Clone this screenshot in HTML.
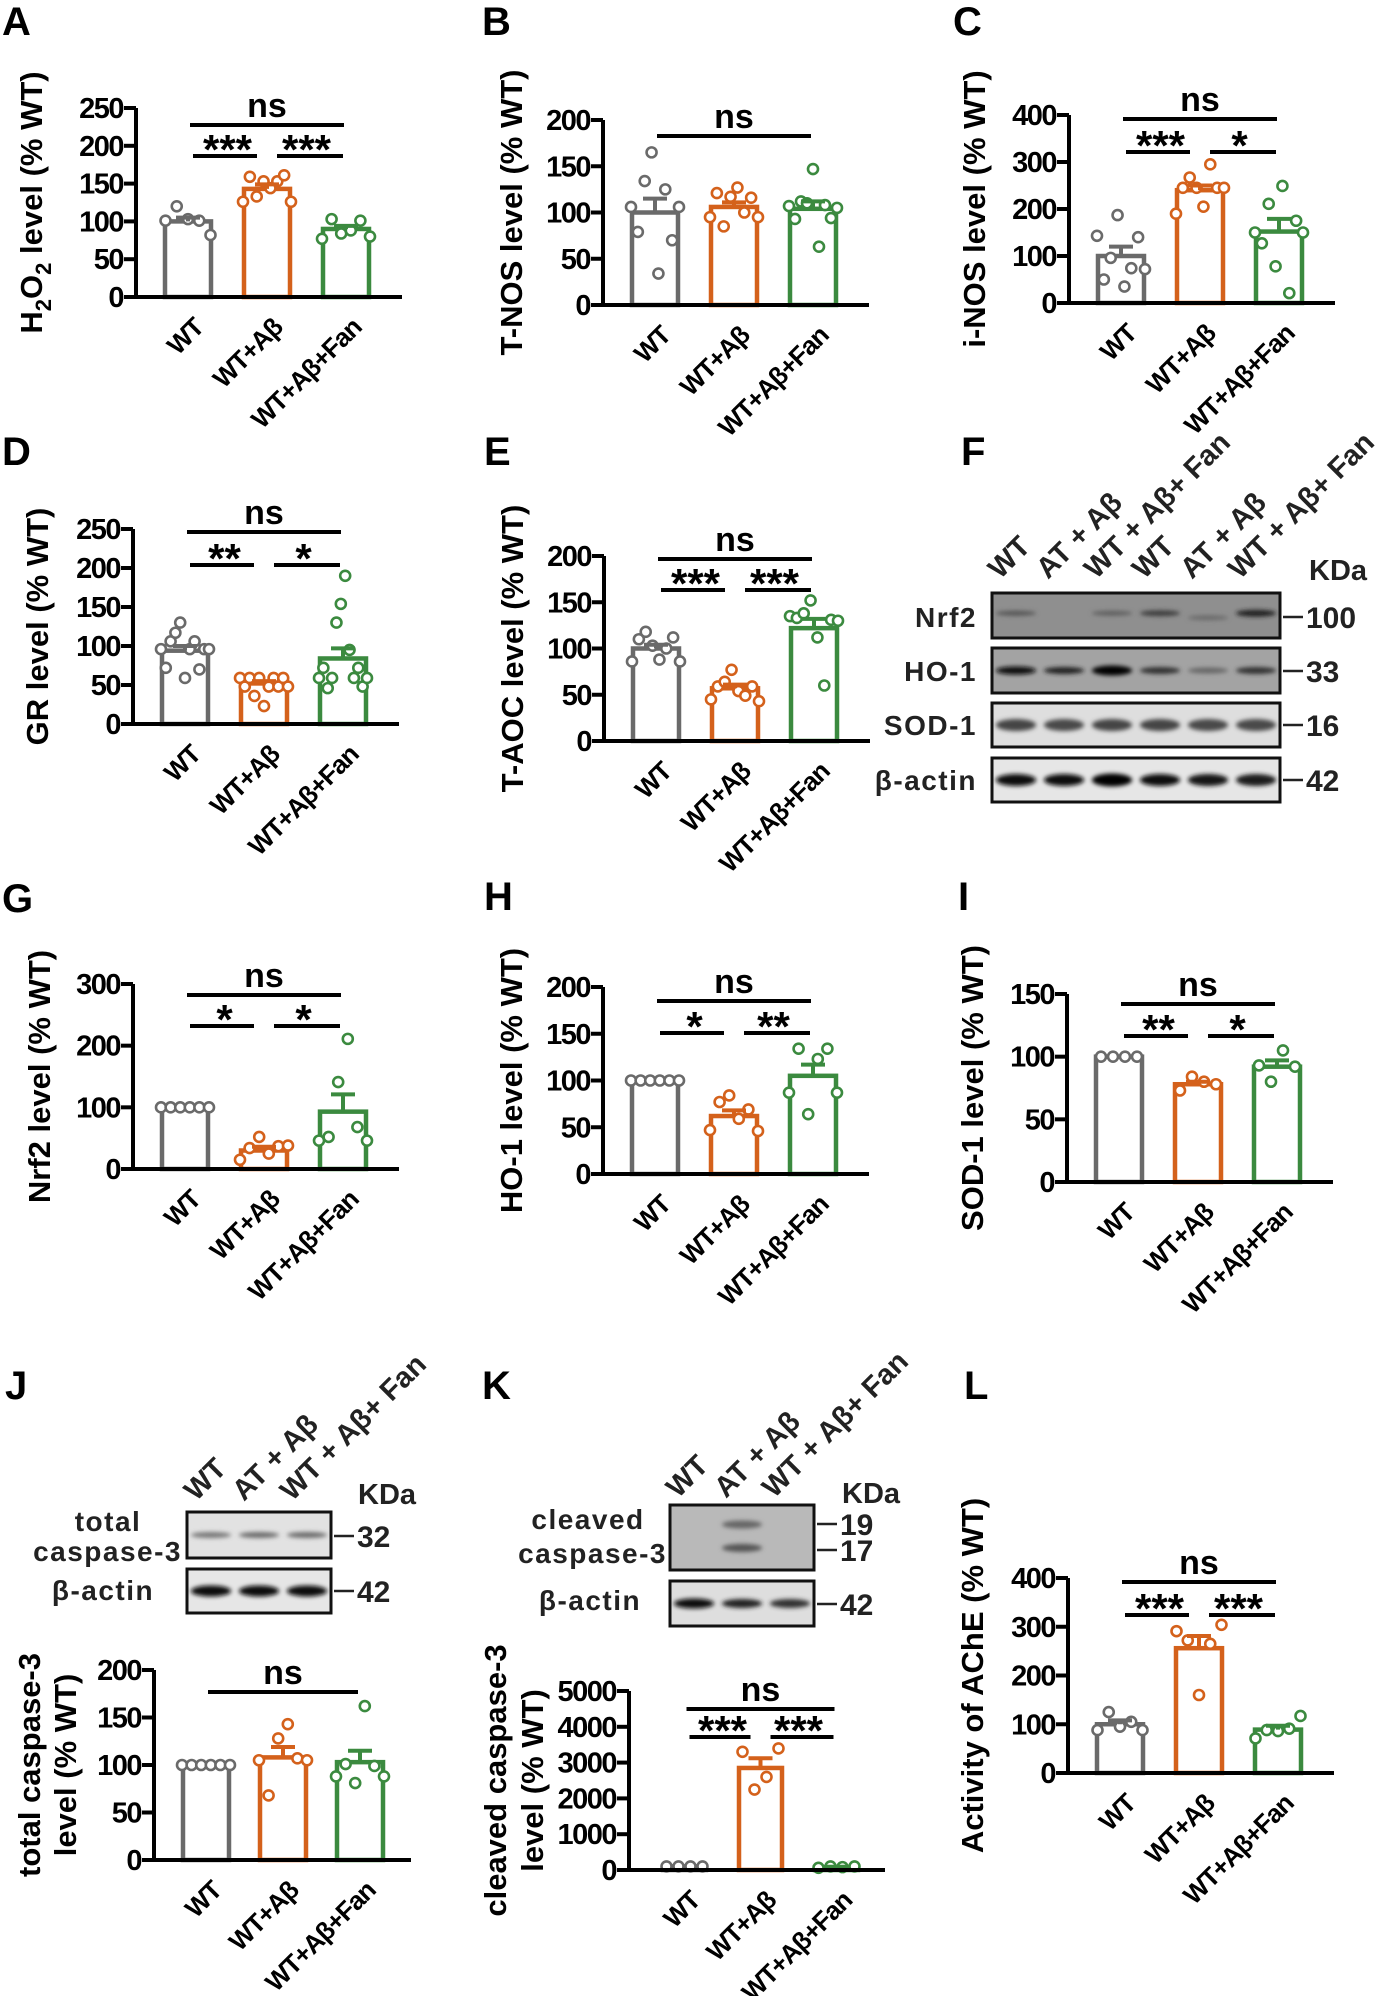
<!DOCTYPE html>
<html><head><meta charset="utf-8"><title>Oxidative stress figure</title>
<style>
html,body{margin:0;padding:0;background:#fff;}
svg{display:block;font-family:"Liberation Sans",Arial,sans-serif;font-weight:bold;}
</style></head>
<body>
<svg id="fig" xmlns="http://www.w3.org/2000/svg" width="1399" height="1996" viewBox="0 0 1399 1996">
<defs>
<filter id="blur2" x="-30%" y="-100%" width="160%" height="300%"><feGaussianBlur stdDeviation="2.2"/></filter>
</defs>
<g id="letters" font-size="40">
<text x="2" y="35">A</text>
<text x="482" y="35">B</text>
<text x="953" y="35">C</text>
<text x="2" y="465">D</text>
<text x="484" y="465">E</text>
<text x="961" y="465">F</text>
<text x="2" y="912">G</text>
<text x="484" y="910">H</text>
<text x="958" y="910">I</text>
<text x="5" y="1399">J</text>
<text x="482" y="1399">K</text>
<text x="964" y="1399">L</text>
</g>
<g id="charts"></g>
<g id="blots"></g>
</svg>
<script>
// ---------- data ----------
const groups = ["WT", "WT+Aβ", "WT+Aβ+Fan"];
const meansA = [100, 143, 90];  const semA = [5, 6, 4];
const ptsA = [[101, 120, 103, 101, 82], [126, 159, 133, 153, 144, 153, 161, 126], [77, 103, 84, 88, 101, 80]];
const ticksA = [0, 50, 100, 150, 200, 250];
const meansB = [100, 106, 104]; const semB = [15, 5, 8];
const ptsB = [[106, 79, 134, 165, 34, 125, 70, 106], [95, 121, 85, 117, 127, 100, 116, 95], [107, 93, 112, 110, 147, 63, 108, 94, 105]];
const ticksB = [0, 50, 100, 150, 200];
const meansC = [100, 240, 152]; const semC = [20, 10, 27];
const ptsC = [[143, 50, 96, 187, 35, 74, 140, 72], [190, 245, 267, 245, 205, 295, 245, 245], [150, 127, 211, 78, 249, 21, 175, 150]];
const ticksC = [0, 100, 200, 300, 400];
const meansD = [94, 52, 84]; const semD = [6, 3, 13];
const ptsD = [[96, 72, 106, 117, 130, 59, 96, 106, 70, 96, 96], [59, 48, 59, 36, 59, 23, 48, 59, 48, 59, 48], [59, 72, 46, 59, 130, 154, 190, 95, 59, 72, 48, 59]];
const ticksD = [0, 50, 100, 150, 200, 250];
const meansE = [100, 57, 122]; const semE = [4, 4, 10];
const ptsE = [[86, 110, 118, 103, 88, 100, 112, 86], [45, 59, 64, 77, 54, 49, 59, 43], [135, 133, 138, 152, 112, 60, 131, 130]];
const ticksE = [0, 50, 100, 150, 200];
const meansG = [100, 30, 93]; const semG = [0, 6, 28];
const ptsG = [[100, 100, 100, 100, 100, 100], [15, 34, 52, 25, 37, 38], [46, 52, 141, 211, 68, 46]];
const ticksG = [0, 100, 200, 300];
const meansH = [100, 62, 105]; const semH = [0, 6, 12];
const ptsH = [[100, 100, 100, 100, 100, 100], [47, 77, 84, 59, 69, 46], [87, 134, 64, 123, 134, 87]];
const ticksH = [0, 50, 100, 150, 200];
const meansI = [100, 78, 92]; const semI = [0, 2, 5];
const ptsI = [[100, 100, 100, 100], [73, 84, 80, 78], [93, 80, 105, 92]];
const ticksI = [0, 50, 100, 150];
const meansJ = [100, 108, 103]; const semJ = [0, 11, 12];
const ptsJ = [[100, 100, 100, 100, 100, 100], [105, 68, 128, 143, 107, 105], [88, 101, 81, 162, 99, 88]];
const ticksJ = [0, 50, 100, 150, 200];
const meansK = [100, 2850, 80]; const semK = [0, 270, 10];
const ptsK = [[100, 100, 100, 100], [3302, 2248, 2600, 3396], [60, 100, 80, 100]];
const ticksK = [0, 1000, 2000, 3000, 4000, 5000];
const meansL = [100, 256, 89]; const semL = [8, 25, 8];
const ptsL = [[88, 125, 95, 105, 88], [291, 272, 160, 265, 304], [71, 88, 86, 91, 117]];
const ticksL = [0, 100, 200, 300, 400];

// ---------- layout ----------
const NS = "http://www.w3.org/2000/svg";
const colors = ["#6a6a6a", "#d4611b", "#3b8a3f"];
function mk(tag, attrs, parent) {
  const e = document.createElementNS(NS, tag);
  for (const k in attrs) e.setAttribute(k, attrs[k]);
  if (parent) parent.appendChild(e);
  return e;
}
const chartsG = document.getElementById('charts');

function chart(id, lay, means, sem, pts, ticks, ylab, sig) {
  const g = mk('g', {}, chartsG);
  
  
  const ymax = ticks[ticks.length - 1];
  const y = v => lay.zero - (v / ymax) * (lay.zero - lay.top);
  const cx = i => lay.ax + lay.start + lay.bw / 2 + i * lay.step;
  means.forEach((m, i) => {
    const b = mk('rect', {x: cx(i) - lay.bw / 2 + 2, y: y(m), width: lay.bw - 4, height: lay.zero - y(m),
      fill: 'none', stroke: colors[i], 'stroke-width': 4.5}, g);
    
    
  });
  pts.forEach((arr, i) => {
    const n = arr.length;
    const spread = Math.min(lay.bw - 2, n * 9);
    arr.forEach((v, k) => {
      const off = n > 1 ? -spread / 2 + spread * k / (n - 1) : 0;
      const c = mk('circle', {cx: cx(i) + off, cy: y(v), r: 5, fill: '#fff', stroke: colors[i], 'stroke-width': 2.6}, g);
      
      
    });
  });
  means.forEach((m, i) => {
    if (sem[i] <= 0) return;
    const e = mk('path', {d: `M${cx(i)},${y(m)}V${y(m + sem[i])}M${cx(i) - 12},${y(m + sem[i])}H${cx(i) + 12}`,
      stroke: colors[i], 'stroke-width': 4, fill: 'none'}, g);
    
    
  });
  const ax = mk('path', {d: `M${lay.ax},${lay.top}V${lay.zero}M${lay.ax - 12},${lay.zero}H${lay.ax + lay.len}`,
    stroke: '#000', 'stroke-width': 4, fill: 'none'}, g);
  
  
  ticks.forEach(t => {
    mk('line', {x1: lay.ax - 12, x2: lay.ax, y1: y(t), y2: y(t), stroke: '#000', 'stroke-width': 4}, g);
    const tl = mk('text', {x: lay.ax - 13, y: y(t) + 10, 'text-anchor': 'end', 'font-size': 29, 'letter-spacing': '-1.5'}, g);
    tl.textContent = t;
    
    
  });
  groups.forEach((gname, i) => {
    const tx = mk('text', {transform: `translate(${cx(i) + 17},${lay.zero + 32}) rotate(-45)`, 'text-anchor': 'end', 'font-size': 26, 'letter-spacing': '-1'}, g);
    tx.textContent = gname;
    
    
  });
  const yc = (lay.top + lay.zero) / 2;
  ylab.forEach((line, li) => {
    const yl = mk('text', {transform: `translate(${lay.ylx[li]},${yc}) rotate(-90)`, 'text-anchor': 'middle', 'font-size': 31}, g);
    yl.innerHTML = line;
    
    
  });
  const sg = mk('g', {}, g);
  
  
  const Ly = sig.long, Sy = sig.short;
  mk('line', {x1: cx(0) + 2, x2: cx(2) - 2, y1: Ly, y2: Ly, stroke: '#000', 'stroke-width': 4}, sg);
  const ns = mk('text', {x: (cx(0) + cx(2)) / 2, y: Ly - 8, 'text-anchor': 'middle', 'font-size': 34}, sg);
  ns.textContent = 'ns';
  if (sig.s1) {
    mk('line', {x1: cx(0) + 5, x2: cx(1) - 10, y1: Sy, y2: Sy, stroke: '#000', 'stroke-width': 4}, sg);
    mk('line', {x1: cx(1) + 10, x2: cx(2) - 3, y1: Sy, y2: Sy, stroke: '#000', 'stroke-width': 4}, sg);
    const s1 = mk('text', {x: (cx(0) + cx(1)) / 2, y: Sy + 8, 'text-anchor': 'middle', 'font-size': 42}, sg);
    s1.textContent = sig.s1;
    const s2 = mk('text', {x: (cx(1) + cx(2)) / 2, y: Sy + 8, 'text-anchor': 'middle', 'font-size': 42}, sg);
    s2.textContent = sig.s2;
  }
}
const R = {start: 27, bw: 50, step: 79, len: 266};
chart('a', {...R, ax: 136, top: 108, zero: 297, ylx: [42]}, meansA, semA, ptsA, ticksA,
  ['H<tspan font-size="22" dy="9">2</tspan><tspan dy="-9">O</tspan><tspan font-size="22" dy="9">2</tspan><tspan dy="-9"> level (% WT)</tspan>'], {long: 125, short: 156, s1: '***', s2: '***'});
chart('b', {...R, ax: 603, top: 120, zero: 305, ylx: [522]}, meansB, semB, ptsB, ticksB, ['T-NOS level (% WT)'], {long: 136});
chart('c', {...R, ax: 1069, top: 115, zero: 303, ylx: [985]}, meansC, semC, ptsC, ticksC, ['i-NOS level (% WT)'], {long: 119, short: 152, s1: '***', s2: '*'});
chart('d', {...R, ax: 133, top: 529, zero: 724, ylx: [48]}, meansD, semD, ptsD, ticksD, ['GR level (% WT)'], {long: 532, short: 565, s1: '**', s2: '*'});
chart('e', {...R, ax: 604, top: 556, zero: 741, ylx: [523]}, meansE, semE, ptsE, ticksE, ['T-AOC level (% WT)'], {long: 559, short: 590, s1: '***', s2: '***'});
chart('g', {...R, ax: 133, top: 984, zero: 1169, ylx: [50]}, meansG, semG, ptsG, ticksG, ['Nrf2 level (% WT)'], {long: 995, short: 1026, s1: '*', s2: '*'});
chart('h', {...R, ax: 603, top: 987, zero: 1174, ylx: [522]}, meansH, semH, ptsH, ticksH, ['HO-1 level (% WT)'], {long: 1001, short: 1033, s1: '*', s2: '**'});
chart('i', {...R, ax: 1067, top: 994, zero: 1182, ylx: [983]}, meansI, semI, ptsI, ticksI, ['SOD-1 level (% WT)'], {long: 1004, short: 1036, s1: '**', s2: '*'});
chart('j', {start: 27, bw: 50, step: 77, len: 257, ax: 154, top: 1670, zero: 1860, ylx: [40, 76]}, meansJ, semJ, ptsJ, ticksJ, ['total caspase-3', 'level (% WT)'], {long: 1692});
chart('k', {start: 32, bw: 47, step: 76, len: 256, ax: 629, top: 1691, zero: 1870, ylx: [506, 543]}, meansK, semK, ptsK, ticksK, ['cleaved caspase-3', 'level (% WT)'], {long: 1709, short: 1737, s1: '***', s2: '***'});
chart('l', {...R, ax: 1068, top: 1578, zero: 1773, ylx: [983]}, meansL, semL, ptsL, ticksL, ['Activity of AChE (% WT)'], {long: 1582, short: 1615, s1: '***', s2: '***'});

// ---------- western blots ----------
const blotsG = document.getElementById('blots');
function blot(id, x0, x1, y0, y1, bg, bands, label, labelX, kda, lanes) {
  const g = mk('g', {}, blotsG);
  
  
  mk('rect', {x: x0, y: y0, width: x1 - x0, height: y1 - y0, fill: bg}, g);
  const lw = (x1 - x0) / lanes;
  bands.forEach(b => {
    mk('ellipse', {cx: x0 + lw * (b[0] + 0.5), cy: y0 + (y1 - y0) * b[1], rx: lw * 0.42, ry: b[3], fill: b[2], filter: 'url(#blur2)'}, g);
  });
  mk('rect', {x: x0, y: y0, width: x1 - x0, height: y1 - y0, fill: 'none', stroke: '#111', 'stroke-width': 3}, g);
  label.forEach(l => {
    const t = mk('text', {x: l[3] || labelX, y: l[1], 'text-anchor': l[2] || 'end', 'font-size': 28, 'letter-spacing': '1.5', fill: '#222'}, g);
    t.textContent = l[0];
  });
  kda.forEach(k => {
    mk('line', {x1: x1 + 3, x2: x1 + 23, y1: k[1], y2: k[1], stroke: '#222', 'stroke-width': 2.5}, g);
    const t = mk('text', {x: x1 + 26, y: k[1] + 11, 'font-size': 30, fill: '#222'}, g);
    t.textContent = k[0];
  });
}
blot('nrf2', 992, 1280, 593, 638, '#8f8f8f', [[0,0.45,'#555',2.5],[2,0.45,'#5e5e5e',2.5],[3,0.45,'#3e3e3e',3],[4,0.55,'#6a6a6a',2.5],[5,0.45,'#222',3.5]], [['Nrf2', 627]], 977, [['100', 617]], 6);
blot('ho1', 992, 1280, 648, 693, '#a3a3a3', [[0,0.5,'#111',4],[1,0.5,'#222',3.5],[2,0.5,'#000',5],[3,0.5,'#333',3.5],[4,0.5,'#666',3],[5,0.5,'#333',3.5]], [['HO-1', 681]], 977, [['33', 671]], 6);
blot('sod1', 992, 1280, 703, 747, '#dedede', [[0,0.5,'#444',6],[1,0.5,'#4a4a4a',6],[2,0.5,'#444',6],[3,0.5,'#444',6],[4,0.5,'#4a4a4a',6],[5,0.5,'#4a4a4a',6]], [['SOD-1', 735]], 977, [['16', 725]], 6);
blot('actin-f', 992, 1280, 758, 802, '#e6e6e6', [[0,0.5,'#111',6],[1,0.5,'#111',6],[2,0.5,'#000',6.5],[3,0.5,'#111',6],[4,0.5,'#151515',6],[5,0.5,'#1a1a1a',6]], [['β-actin', 790]], 977, [['42', 780]], 6);
blot('casp3-total', 187, 331, 1512, 1558, '#e2e2e2', [[0,0.5,'#777',3],[1,0.5,'#6a6a6a',3],[2,0.5,'#6a6a6a',3]], [['total', 1531, 'middle', 108], ['caspase-3', 1561]], 182, [['32', 1536]], 3);
blot('actin-j', 187, 331, 1569, 1613, '#e6e6e6', [[0,0.5,'#111',5.5],[1,0.5,'#0a0a0a',5.5],[2,0.5,'#111',5.5]], [['β-actin', 1600, 'middle', 103]], 172, [['42', 1591]], 3);
blot('casp3-cleaved', 670, 814, 1505, 1570, '#b9b9b9', [[1,0.3,'#666',4],[1,0.66,'#555',4]], [['cleaved', 1529, 'middle', 588], ['caspase-3', 1563]], 667, [['19', 1524], ['17', 1550]], 3);
blot('actin-k', 670, 814, 1581, 1626, '#dedede', [[0,0.5,'#111',5],[1,0.5,'#222',4.5],[2,0.5,'#333',4.5]], [['β-actin', 1610, 'middle', 590]], 640, [['42', 1604]], 3);
function lanes(id, list, x0, step, y0) {
  const g = mk('g', {}, blotsG);
  
  
  list.forEach((s, i) => {
    const t = mk('text', {transform: `translate(${x0 + i * step},${y0}) rotate(-45)`, 'font-size': 29, fill: '#222'}, g);
    t.textContent = s;
  });
}
lanes('f', ['WT', 'AT + Aβ', 'WT + Aβ+ Fan', 'WT', 'AT + Aβ', 'WT + Aβ+ Fan'], 1000, 48, 580);
lanes('j', ['WT', 'AT + Aβ', 'WT + Aβ+ Fan'], 196, 48, 1502);
lanes('k', ['WT', 'AT + Aβ', 'WT + Aβ+ Fan'], 678, 48, 1499);
function kdaLabel(x, y) {
  const t = mk('text', {x: x, y: y, 'font-size': 29, fill: '#222'}, blotsG);
  t.textContent = 'KDa';
  
  
}
kdaLabel(1309, 580); kdaLabel(358, 1504); kdaLabel(842, 1503);
</script>
</body></html>
